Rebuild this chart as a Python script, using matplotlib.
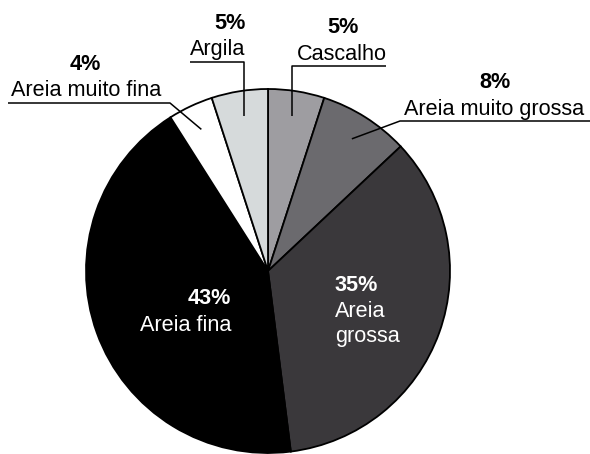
import numpy as np
import matplotlib.pyplot as plt

# data
categories = ['Cascalho', 'Areia muito grossa', 'Areia grossa', 'Areia fina',
              'Areia muito fina', 'Argila']
values = [5, 8, 35, 43, 4, 5]
colors = ['#9e9da1', '#6b6a6e', '#3a383b', '#000000', '#ffffff', '#d6dadb']

W, H = 590, 454
plt.rcParams['font.family'] = ['Liberation Sans', 'DejaVu Sans']
FS = 15.6

fig = plt.figure(figsize=(W / 100, H / 100), dpi=100)
ax = fig.add_axes([0, 0, 1, 1])
ax.set_xlim(0, W)
ax.set_ylim(0, H)
ax.set_aspect('equal')
ax.axis('off')


def Y(y):
    # pixel row (from top) -> data y
    return H - y


cx, cy, R = 268, 271, 182
wedges, _ = ax.pie(values, colors=colors, startangle=90, counterclock=False,
                   center=(cx, Y(cy)), radius=R,
                   wedgeprops=dict(edgecolor='black', linewidth=1.3))
ax.set_xlim(0, W)
ax.set_ylim(0, H)


def tip(i, frac=0.86):
    w = wedges[i]
    mid = np.deg2rad((w.theta1 + w.theta2) / 2)
    return cx + frac * R * np.cos(mid), Y(cy) + frac * R * np.sin(mid)


def outside(i, pct_xy, name_xy, line_pts, ha='center'):
    ax.text(pct_xy[0], Y(pct_xy[1]), f'{values[i]}%', fontsize=FS,
            fontweight='bold', ha=ha, va='baseline')
    ax.text(name_xy[0], Y(name_xy[1]), categories[i], fontsize=FS,
            ha=ha, va='baseline')
    tx, ty = tip(i)
    xs = [p[0] for p in line_pts] + [tx]
    ys = [Y(p[1]) for p in line_pts] + [ty]
    ax.plot(xs, ys, color='black', lw=1.1, solid_capstyle='butt')


# outside labels with leader lines
outside(0, (343, 33), (342, 60), [(386, 66), (tip(0)[0], 66)])
outside(1, (495, 88), (494, 115), [(590, 121), (400, 121)])
outside(4, (85, 70), (86, 96), [(8, 103), (170, 103)])
outside(5, (230, 29), (218, 55), [(190, 62), (tip(5)[0], 62)])

# inside labels
ax.text(231, Y(304), '43%', color='white', fontsize=FS, fontweight='bold',
        ha='right', va='baseline')
ax.text(231, Y(331), 'Areia fina', color='white', fontsize=FS,
        ha='right', va='baseline')
ax.text(335, Y(291), '35%', color='white', fontsize=FS, fontweight='bold',
        ha='left', va='baseline')
ax.text(335, Y(317), 'Areia', color='white', fontsize=FS,
        ha='left', va='baseline')
ax.text(335, Y(342), 'grossa', color='white', fontsize=FS,
        ha='left', va='baseline')

fig.savefig('out.png', dpi=100)
